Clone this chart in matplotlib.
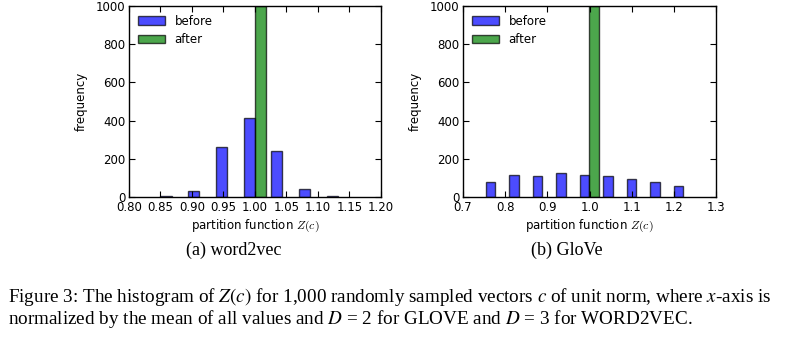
import matplotlib
matplotlib.use("Agg")
import matplotlib.pyplot as plt

# word2vec panel
w2v_before_x = [0.8588, 0.9028, 0.9468, 0.9908, 1.0348, 1.0788, 1.1228]
w2v_before_counts = [3, 32, 260, 415, 242, 42, 6]
w2v_after_x = [1.0084]
w2v_after_counts = [1000]
w2v_xticks = [0.80, 0.85, 0.90, 0.95, 1.00, 1.05, 1.10, 1.15, 1.20]

# GloVe panel
glove_before_x = [0.7647, 0.8205, 0.8763, 0.9321, 0.9879, 1.0437, 1.0995, 1.1553, 1.2111]
glove_before_counts = [77, 116, 109, 128, 114, 110, 96, 77, 56]
glove_after_x = [1.0102]
glove_after_counts = [1000]
glove_xticks = [0.7, 0.8, 0.9, 1.0, 1.1, 1.2, 1.3]

yticks = [0, 200, 400, 600, 800, 1000]

FS = 8.5
fig = plt.figure(figsize=(8.02, 3.37), dpi=100)

def panel(rect, bx, bc, ax_, ac, bw, xlim, xticks, fmt):
    ax = fig.add_axes(rect)
    ax.bar(bx, bc, width=bw, color='b', alpha=0.7, edgecolor='k', linewidth=1, label='before')
    ax.bar(ax_, ac, width=bw, color='g', alpha=0.7, edgecolor='k', linewidth=1, label='after')
    ax.set_xlim(*xlim)
    ax.set_ylim(0, 1000)
    ax.set_xticks(xticks)
    ax.set_xticklabels([fmt.format(t) for t in xticks])
    ax.set_yticks(yticks)
    ax.tick_params(direction='in', top=True, right=True, length=4, width=0.8,
                   labelsize=FS, pad=2.5)
    ax.tick_params(axis='x', pad=3.2)
    for s in ax.spines.values():
        s.set_linewidth(1.0)
    ax.set_ylabel('frequency', fontsize=FS, labelpad=6)
    ax.set_xlabel(r'partition function $Z(c)$', fontsize=FS, labelpad=2.5)
    ax.xaxis.label.set_math_fontfamily('cm')
    ax.legend(loc='upper left', frameon=False, fontsize=FS, handlelength=2.3,
              handleheight=0.75, borderaxespad=0.35, labelspacing=0.45)
    return ax

panel([0.1608, 0.4154, 0.3142, 0.5668], w2v_before_x, w2v_before_counts,
      w2v_after_x, w2v_after_counts, 0.0176, (0.8, 1.2), w2v_xticks, '{:.2f}')
panel([0.5773, 0.4154, 0.3155, 0.5668], glove_before_x, glove_before_counts,
      glove_after_x, glove_after_counts, 0.0223, (0.7, 1.3), glove_xticks, '{:.1f}')

serif = 'Liberation Serif'
fig.text(234 / 802, 1 - 255 / 337, '(a) word2vec', ha='center', va='baseline',
         fontsize=13, family=serif)
fig.text(567 / 802, 1 - 255 / 337, '(b) GloVe', ha='center', va='baseline',
         fontsize=13, family=serif)

fig.text(8 / 802, 1 - 302 / 337,
         r'Figure 3: The histogram of $Z(c)$ for 1,000 randomly sampled vectors $c$ of unit norm, where $x$-axis is',
         ha='left', va='baseline', fontsize=13.8, family=serif, math_fontfamily='stix')
fig.text(8 / 802, 1 - 324 / 337,
         r'normalized by the mean of all values and $D$ = 2 for GLOVE and $D$ = 3 for WORD2VEC.',
         ha='left', va='baseline', fontsize=13.8, family=serif, math_fontfamily='stix')

fig.savefig('out.png', dpi=100)
